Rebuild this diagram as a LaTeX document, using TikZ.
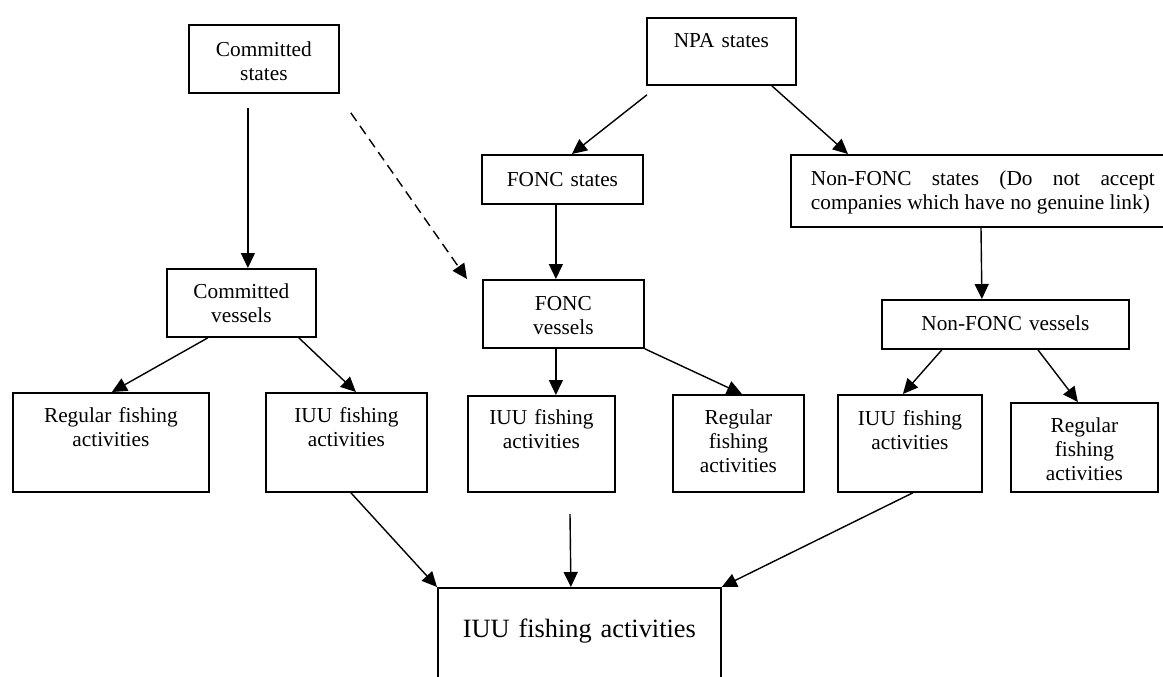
\documentclass[tikz,border=0pt]{standalone}
\usepackage{fontspec}
\setmainfont{Liberation Serif}
\usetikzlibrary{arrows.meta}
\begin{document}
\begin{tikzpicture}[x=1pt, y=-1pt, >={Triangle[length=15pt,width=14pt]},
  box/.style={draw, line width=1.8pt, inner sep=0pt, anchor=north west, align=center,
    font=\fontsize{21.3}{24}\selectfont},
  arr/.style={->, line width=1.4pt}]
\clip (0,0) rectangle (1163,677);
% states
\node[box, text width=150pt, text height=32pt, text depth=36pt] (cs) at (188,24) {Committed\\states};
\node[box, text width=149pt, text height=30pt, text depth=37pt] (npa) at (646,17) {NPA states};
\node[box, text width=161pt, text height=32pt, text depth=17pt] (fs) at (481,154) {FONC states};
\node[box, align=left, inner xsep=20pt, text width=344pt, text height=31pt, text depth=41pt] (nfs) at (790,154)
  {\spaceskip=0pt\relax\makebox[344pt][s]{Non-FONC states (Do not accept}\\companies which have no genuine link)};
% vessels
\node[box, text width=149pt, text height=30pt, text depth=38pt] (cv) at (166,268) {Committed\\vessels};
\node[box, text width=161pt, text height=31pt, text depth=37pt] (fv) at (482,279) {FONC\\vessels};
\node[box, text width=247pt, text height=31pt, text depth=18pt] (nfv) at (881,299) {Non-FONC vessels};
% activities
\node[box, text width=196pt, text height=30pt, text depth=69pt] (creg) at (12,392) {Regular fishing\\activities};
\node[box, text width=161pt, text height=30pt, text depth=69pt] (ciuu) at (265,392) {IUU fishing\\activities};
\node[box, text width=147pt, text height=29pt, text depth=67pt] (fiuu) at (467,395) {IUU fishing\\activities};
\node[box, text width=131pt, text height=30pt, text depth=67pt] (freg) at (672,394) {Regular\\fishing\\activities};
\node[box, text width=144pt, text height=31pt, text depth=66pt] (niuu) at (837,394) {IUU fishing\\activities};
\node[box, text width=147pt, text height=30pt, text depth=59pt] (nreg) at (1010,402) {Regular\\fishing\\activities};
\node[box, text width=283pt, text height=50pt, text depth=70pt, font=\fontsize{26.4}{30}\selectfont] (iuu) at (437,587)
  {IUU fishing activities};
\coordinate (gap) at (570,514);
% arrows
\draw[arr] ([xshift=-16pt,yshift=-14pt]cs.south) -- ([xshift=6.5pt]cv.north);
\draw[arr, dash pattern=on 10pt off 6pt] ([xshift=11pt,yshift=-19pt]cs.south east) -- ([xshift=-15pt]fv.north west);
\draw[arr] ([xshift=1pt,yshift=-9pt]npa.south west) -- ([xshift=9.5pt]fs.north);
\draw[arr] ([xshift=-25pt]npa.south east) -- ([xshift=58pt]nfs.north west);
\draw[arr] ([xshift=-6.5pt]fs.south) -- ([xshift=-7.5pt]fv.north);
\draw[arr] ([xshift=191pt]nfs.south west) -- ([xshift=-23.5pt]nfv.north);
\draw[arr] ([xshift=-33.5pt]cv.south) -- ([xshift=1pt]creg.north);
\draw[arr] ([xshift=-18pt]cv.south east) -- ([xshift=9.5pt]ciuu.north);
\draw[arr] ([xshift=-7.5pt]fv.south) -- ([xshift=14.5pt]fiuu.north);
\draw[arr] (fv.south east) -- ([xshift=3.5pt]freg.north);
\draw[arr] ([xshift=-63.5pt]nfv.south) -- ([xshift=-7pt]niuu.north);
\draw[arr] ([xshift=32.5pt]nfv.south) -- ([xshift=-6.5pt]nreg.north);
\draw[arr] ([xshift=4.5pt]ciuu.south) -- (iuu.north west);
\draw[arr] (gap) -- ([xshift=-8.5pt]iuu.north);
\draw[arr] ([xshift=3pt]niuu.south) -- (iuu.north east);
\end{tikzpicture}
\end{document}
